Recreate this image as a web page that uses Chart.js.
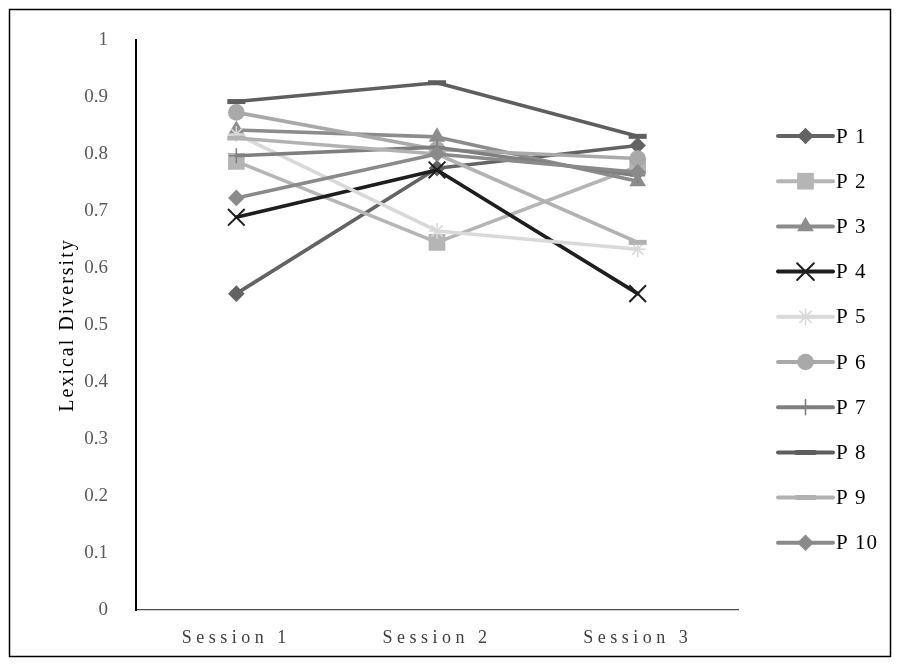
<!DOCTYPE html>
<html>
<head>
<meta charset="utf-8">
<script src="https://cdn.jsdelivr.net/npm/chart.js@4/dist/chart.umd.min.js"></script>
<style>
  html, body { margin: 0; padding: 0; background: #fff; }
  canvas { display: block; }
</style>
</head>
<body>
<canvas id="chart" width="900" height="664"></canvas>
<script>
// Sessions on the x axis
const sessions = ['Session 1', 'Session 2', 'Session 3'];

// Participants (series names)
const participants = ['P 1', 'P 2', 'P 3', 'P 4', 'P 5', 'P 6', 'P 7', 'P 8', 'P 9', 'P 10'];

// Lexical diversity per participant, one value per session
const p1  = [0.555, 0.775, 0.815];
const p2  = [0.787, 0.645, 0.778];
const p3  = [0.842, 0.830, 0.752];
const p4  = [0.689, 0.772, 0.555];
const p5  = [0.835, 0.665, 0.633];
const p6  = [0.873, 0.808, 0.792];
const p7  = [0.797, 0.812, 0.762];
const p8  = [0.892, 0.925, 0.831];
const p9  = [0.828, 0.800, 0.645];
const p10 = [0.723, 0.800, 0.768];

// Y axis tick labels
const yTickLabels = ['0', '0.1', '0.2', '0.3', '0.4', '0.5', '0.6', '0.7', '0.8', '0.9', '1'];

const seriesValues = [p1, p2, p3, p4, p5, p6, p7, p8, p9, p10];

// Styling per series: grey shades and marker shapes
const seriesStyle = [
  { color: '#636363', marker: 'rectRot',  radius: 8.3,  stroke: 0 },
  { color: '#b5b5b5', marker: 'rect',     radius: 11.8, stroke: 0 },
  { color: '#8c8c8c', marker: 'triangle', radius: 9.6,  stroke: 0 },
  { color: '#1e1e1e', marker: 'crossRot', radius: 11.8, stroke: 2 },
  { color: '#d9d9d9', marker: 'star',     radius: 8,    stroke: 1.6 },
  { color: '#a9a9a9', marker: 'circle',   radius: 8.3,  stroke: 0 },
  { color: '#7f7f7f', marker: 'cross',    radius: 7.5,  stroke: 1.6 },
  { color: '#5e5e5e', marker: 'line',     radius: 9,    stroke: 5 },
  { color: '#b2b2b2', marker: 'line',     radius: 9,    stroke: 5 },
  { color: '#8a8a8a', marker: 'rectRot',  radius: 8.3,  stroke: 0 }
];

const SERIF = "'Liberation Serif', 'Times New Roman', serif";

const datasets = participants.map((name, i) => {
  const st = seriesStyle[i];
  return {
    label: name,
    data: seriesValues[i],
    borderColor: st.color,
    backgroundColor: st.color,
    borderWidth: 3.6,
    borderCapStyle: 'round',
    borderJoinStyle: 'round',
    tension: 0,
    pointStyle: st.marker,
    pointRadius: st.radius,
    pointHoverRadius: st.radius,
    pointBorderWidth: st.stroke,
    pointBackgroundColor: st.color,
    pointBorderColor: st.color,
    order: participants.length - i   // later series drawn on top
  };
});

// Wraps a scale drawing method so its text gets extra letter spacing
function spaced(scale, method, spacing) {
  const key = '__spaced_' + method;
  if (scale[key]) return;
  const orig = scale[method];
  scale[method] = function (...args) {
    const ctx = this.ctx;
    ctx.save();
    ctx.letterSpacing = spacing;
    orig.apply(this, args);
    ctx.restore();
  };
  scale[key] = true;
}

const framePlugin = {
  id: 'frame',
  beforeDraw(chart) {
    const ctx = chart.ctx;
    ctx.save();
    ctx.fillStyle = '#ffffff';
    ctx.fillRect(0, 0, chart.width, chart.height);
    ctx.restore();
    spaced(chart.scales.x, 'drawLabels', '4.5px');
    spaced(chart.scales.y, 'drawTitle', '2px');
  },
  afterDraw(chart) {
    const ctx = chart.ctx;
    ctx.save();
    ctx.strokeStyle = '#000000';
    ctx.lineWidth = 1.5;
    ctx.strokeRect(9.5, 9.5, 881, 647);
    ctx.restore();
  }
};

// Legend on the right: line segment with the series marker, then the name
const sideLegend = {
  id: 'sideLegend',
  afterDraw(chart) {
    const ctx = chart.ctx;
    const x0 = 778, x1 = 833, top = 136, step = 45.2;
    chart.data.datasets.forEach((ds, i) => {
      const y = top + i * step;
      ctx.save();
      ctx.strokeStyle = ds.borderColor;
      ctx.lineWidth = 4;
      ctx.lineCap = 'round';
      ctx.beginPath();
      ctx.moveTo(x0, y);
      ctx.lineTo(x1, y);
      ctx.stroke();
      ctx.fillStyle = ds.pointBackgroundColor;
      ctx.strokeStyle = ds.pointBorderColor;
      ctx.lineWidth = ds.pointBorderWidth;
      Chart.helpers.drawPoint(ctx, {
        pointStyle: ds.pointStyle,
        radius: ds.pointRadius,
        borderWidth: ds.pointBorderWidth,
        rotation: 0
      }, (x0 + x1) / 2, y);
      ctx.fillStyle = '#000000';
      ctx.font = '21px ' + SERIF;
      ctx.textAlign = 'left';
      ctx.textBaseline = 'middle';
      ctx.letterSpacing = '1px';
      ctx.fillText(ds.label, 836, y + 1);
      ctx.restore();
    });
  }
};

new Chart(document.getElementById('chart'), {
  type: 'line',
  data: { labels: sessions, datasets },
  options: {
    responsive: false,
    animation: false,
    events: [],
    layout: { padding: { top: 40, right: 162, bottom: 0, left: 0 } },
    plugins: {
      legend: { display: false },
      tooltip: { enabled: false }
    },
    scales: {
      x: {
        type: 'category',
        offset: true,
        grid: { display: false, drawTicks: false },
        border: { display: true, color: '#4d4d4d', width: 1.2 },
        ticks: {
          font: { family: SERIF, size: 18 },
          color: '#404040',
          padding: 17,
          maxRotation: 0
        },
        afterFit(scale) { scale.height = 54; }
      },
      y: {
        min: 0,
        max: 1,
        grid: { display: false, drawTicks: false },
        border: { display: true, color: '#000000', width: 2 },
        ticks: {
          stepSize: 0.1,
          font: { family: SERIF, size: 19 },
          color: '#595959',
          padding: 28,
          callback: (value, index) => yTickLabels[index]
        },
        title: {
          display: true,
          text: 'Lexical Diversity',
          font: { family: SERIF, size: 20 },
          color: '#000000',
          padding: { top: 56, bottom: 0 }
        },
        afterFit(scale) { scale.width = 136; }
      }
    }
  },
  plugins: [framePlugin, sideLegend]
});
</script>
</body>
</html>
